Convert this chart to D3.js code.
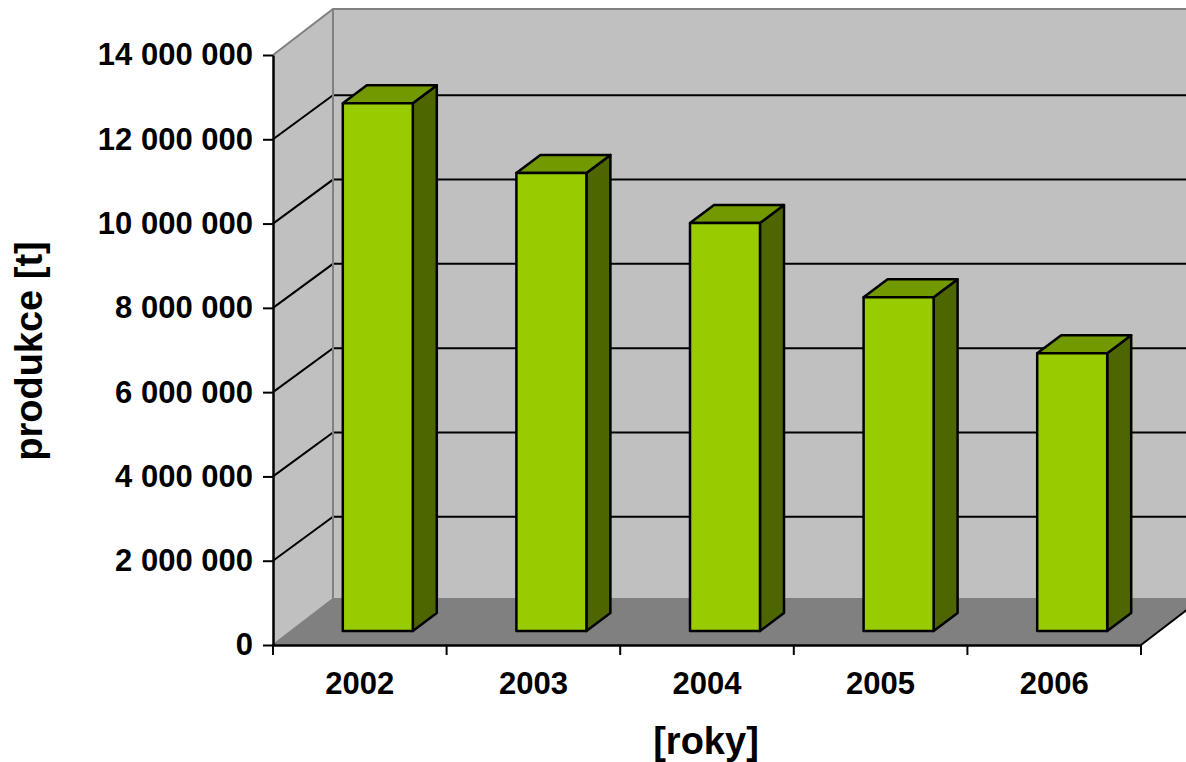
<!DOCTYPE html>
<html>
<head>
<meta charset="utf-8">
<script src="https://cdnjs.cloudflare.com/ajax/libs/d3/7.8.5/d3.min.js"></script>
<style>
  html, body { margin: 0; padding: 0; background: #fff; }
  svg { display: block; }
  text { font-family: "Liberation Sans", Arial, sans-serif; font-weight: bold; fill: #000; }
</style>
</head>
<body>
<svg id="chart" width="1186" height="762"></svg>
<script>
const years = ["2002", "2003", "2004", "2005", "2006"];
const production = [12520000, 10870000, 9680000, 7920000, 6590000];
const yTicks = [0, 2000000, 4000000, 6000000, 8000000, 10000000, 12000000, 14000000];

const svg = d3.select("#chart");

// front plane of the 3d box
const x0 = 273, x1 = 1141, y0 = 645, y1 = 55;
// depth of the box and of the bars
const depthX = 60, topDepthY = -46, floorDepthY = -46, gridDepthY = -44;
const barFrontX = 18, barFrontY = -14;
const barDepthX = 24, barDepthY = -18;

const x = d3.scaleBand().domain(years).range([x0, x1]);
const y = d3.scaleLinear().domain([0, 14000000]).range([y0, y1]);
const barW = 70;

const pts = a => a.map(p => p.join(",")).join(" ");

// back wall
svg.append("polygon")
  .attr("points", pts([[x0 + depthX, y1 + topDepthY], [x1 + depthX, y1 + topDepthY],
    [x1 + depthX, y0 + floorDepthY], [x0 + depthX, y0 + floorDepthY]]))
  .attr("fill", "#c0c0c0");
// side wall
svg.append("polygon")
  .attr("points", pts([[x0, y1], [x0 + depthX, y1 + topDepthY], [x0 + depthX, y0 + floorDepthY], [x0, y0]]))
  .attr("fill", "#c0c0c0");
// floor
svg.append("polygon")
  .attr("points", pts([[x0, y0], [x0 + depthX, y0 + floorDepthY], [x1 + depthX, y0 + floorDepthY], [x1, y0]]))
  .attr("fill", "#808080");

// gridlines
svg.selectAll("path.grid")
  .data(yTicks.slice(1, -1))
  .enter()
  .append("path")
    .attr("class", "grid")
    .attr("d", d => `M${x0},${y(d)}L${x0 + depthX},${y(d) + gridDepthY}H${x1 + depthX}`)
    .attr("fill", "none")
    .attr("stroke", "#000")
    .attr("stroke-width", 2);

// wall outlines
svg.append("path")
  .attr("d", `M${x0},${y1}L${x0 + depthX},${y1 + topDepthY}H${x1 + depthX}
    M${x0 + depthX},${y1 + topDepthY}V${y0 + floorDepthY}H${x1 + depthX}
    M${x0 + depthX},${y0 + floorDepthY}L${x0},${y0}`)
  .attr("fill", "none")
  .attr("stroke", "#808080")
  .attr("stroke-width", 2);

// floor front right edge
svg.append("line")
  .attr("x1", x1).attr("y1", y0)
  .attr("x2", x1 + depthX).attr("y2", y0 + floorDepthY)
  .attr("stroke", "#000")
  .attr("stroke-width", 2);

// bars
const bars = svg.selectAll("g.bar")
  .data(years.map((d, i) => ({ year: d, value: production[i] })))
  .enter()
  .append("g")
    .attr("class", "bar")
    .attr("stroke", "#000")
    .attr("stroke-width", 2.5)
    .attr("stroke-linejoin", "round");

const bx = d => x(d.year) + x.bandwidth() / 2 - barW / 2 + barFrontX;
const by = d => y(d.value) + barFrontY;
const byBase = y(0) + barFrontY;

bars.append("polygon") // right side
  .attr("fill", "#4d6600")
  .attr("points", d => pts([[bx(d) + barW, by(d)], [bx(d) + barW + barDepthX, by(d) + barDepthY],
    [bx(d) + barW + barDepthX, byBase + barDepthY], [bx(d) + barW, byBase]]));
bars.append("polygon") // top
  .attr("fill", "#739900")
  .attr("points", d => pts([[bx(d), by(d)], [bx(d) + barDepthX, by(d) + barDepthY],
    [bx(d) + barW + barDepthX, by(d) + barDepthY], [bx(d) + barW, by(d)]]));
bars.append("rect") // front
  .attr("fill", "#99cc00")
  .attr("x", bx)
  .attr("y", by)
  .attr("width", barW)
  .attr("height", d => byBase - by(d));

// axes
const fmt = d => d3.format(",")(d).replace(/,/g, " ");
const yAxis = svg.append("g")
  .attr("transform", `translate(${x0},0)`)
  .call(d3.axisLeft(y).tickValues(yTicks).tickFormat(fmt).tickSize(10).tickSizeOuter(0).tickPadding(10));
const xAxis = svg.append("g")
  .attr("transform", `translate(0,${y0})`)
  .call(d3.axisBottom(x).tickSize(0).tickPadding(27));

xAxis.selectAll(".boundary")
  .data(d3.range(years.length + 1))
  .enter()
  .append("line")
    .attr("class", "boundary")
    .attr("x1", i => x0 + i * x.bandwidth())
    .attr("x2", i => x0 + i * x.bandwidth())
    .attr("y1", 0)
    .attr("y2", 10)
    .attr("stroke", "#000")
    .attr("stroke-width", 2);

[yAxis, xAxis].forEach(a => {
  a.selectAll("text").style("font-size", "31px").style("font-family", '"Liberation Sans", Arial, sans-serif');
  a.selectAll(".tick line").attr("stroke", "#000").attr("stroke-width", 2);
  a.selectAll(".domain").attr("stroke", "#000").attr("stroke-width", 2.5);
});
xAxis.selectAll(".tick line").remove();

// axis titles
svg.append("text")
  .attr("x", 706)
  .attr("y", 754)
  .attr("text-anchor", "middle")
  .attr("font-size", "38px")
  .text("[roky]");

svg.append("text")
  .attr("transform", "translate(42,351) rotate(-90)")
  .attr("text-anchor", "middle")
  .attr("font-size", "38px")
  .text("produkce [t]");
</script>
</body>
</html>
